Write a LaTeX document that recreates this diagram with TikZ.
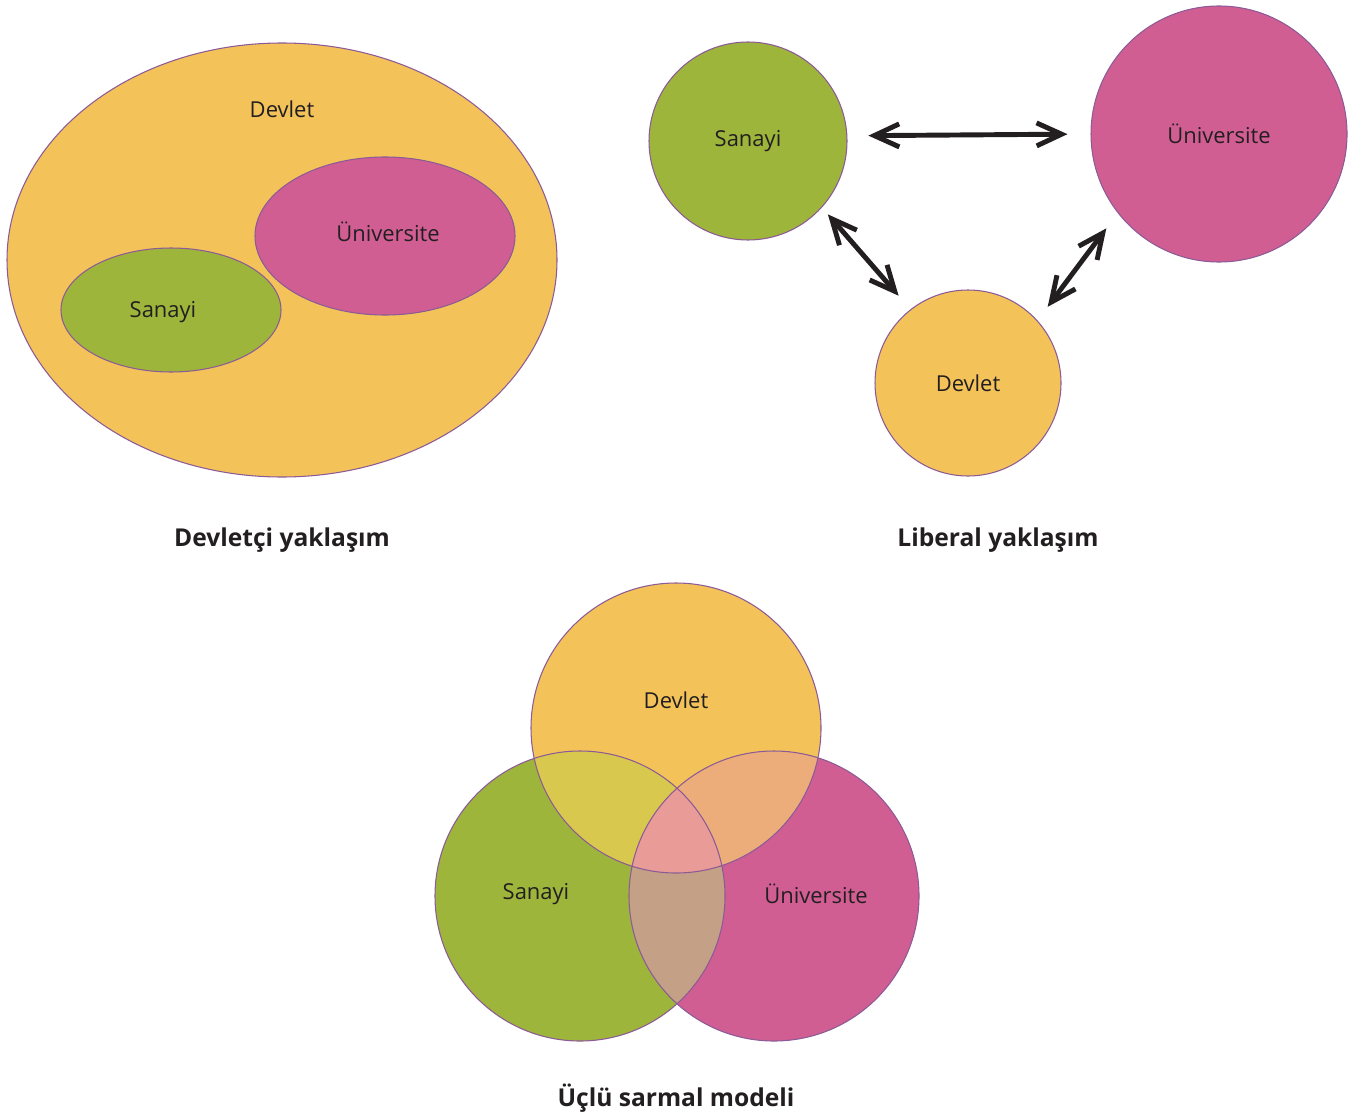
\documentclass[tikz,border=0pt]{standalone}
\usepackage{fontspec}
\setmainfont{Open Sans}
\usetikzlibrary{shapes.geometric,arrows.meta}

\definecolor{devletC}{RGB}{243,195,90}
\definecolor{sanayiC}{RGB}{158,181,59}
\definecolor{univC}{RGB}{209,94,147}
\definecolor{dsC}{RGB}{217,200,78}
\definecolor{duC}{RGB}{236,173,123}
\definecolor{suC}{RGB}{195,160,134}
\definecolor{dsuC}{RGB}{233,156,151}
\definecolor{rimC}{RGB}{140,90,150}
\definecolor{inkC}{RGB}{35,31,32}

\begin{document}
\begin{tikzpicture}[x=0.02cm, y=-0.02cm,
    rim/.style={draw=rimC, line width=0.6pt},
    lbl/.style={text=inkC, font=\fontsize{12.5}{15}\selectfont},
    caption/.style={text=inkC, font=\fontsize{14}{16}\selectfont\bfseries},
    link/.style={draw=inkC, line width=2.8pt,
      {Straight Barb[length=0.5cm, width=0.46cm]}-{Straight Barb[length=0.5cm, width=0.46cm]}}]

  \useasboundingbox (0,0) rectangle (1351,1115);

  % === Devletci yaklasim: everything inside the state ===
  \node[ellipse, rim, fill=devletC, minimum width=550*0.02cm,
    minimum height=434*0.02cm] (stBig) at (282,260) {};
  \node[ellipse, rim, fill=univC, minimum width=260*0.02cm,
    minimum height=158*0.02cm] (stUni) at (385,236) {};
  \node[ellipse, rim, fill=sanayiC, minimum width=220*0.02cm,
    minimum height=124*0.02cm] (stSan) at (171,310) {};
  \node[lbl] (stBigT) at (282,109) {Devlet};
  \node[lbl] (stUniT) at (388,232) {Üniversite};
  \node[lbl] (stSanT) at (163,312) {Sanayi};
  \node[caption] (stCap) at (282,540) {Devletçi yaklaşım};

  % === Liberal yaklasim: three separate spheres ===
  \node[circle, rim, fill=sanayiC, minimum size=198*0.02cm, lbl]
    (lbSan) at (748,141) {Sanayi};
  \node[circle, rim, fill=univC, minimum size=256*0.02cm, lbl]
    (lbUni) at (1219,134) {Üniversite};
  \node[circle, rim, fill=devletC, minimum size=186*0.02cm, lbl]
    (lbDev) at (968,383) {Devlet};
  \node[caption] (lbCap) at (998,540) {Liberal yaklaşım};

  % two-way links
  \draw[link, shorten <=0.42cm, shorten >=0.46cm] (lbSan.3) -- (lbUni.180);
  \draw[link, shorten <=0.18cm, shorten >=0.36cm] (lbSan.-42) -- (lbDev.128);
  \draw[link, shorten <=0.34cm, shorten >=0.38cm] (lbDev.42) -- (lbUni.218);

  % === Uclu sarmal modeli: overlapping spheres ===
  \def\r{145}
  \fill[devletC] (676,728) circle (\r);
  \fill[sanayiC] (580,896) circle (\r);
  \fill[univC] (774,896) circle (\r);
  % pairwise overlaps
  \begin{scope}
    \clip (676,728) circle (\r);
    \fill[dsC] (580,896) circle (\r);
    \fill[duC] (774,896) circle (\r);
  \end{scope}
  \begin{scope}
    \clip (580,896) circle (\r);
    \fill[suC] (774,896) circle (\r);
  \end{scope}
  % centre, all three
  \begin{scope}
    \clip (676,728) circle (\r);
    \clip (580,896) circle (\r);
    \fill[dsuC] (774,896) circle (\r);
  \end{scope}
  \draw[rim] (676,728) circle (\r);
  \draw[rim] (580,896) circle (\r);
  \draw[rim] (774,896) circle (\r);

  \node[lbl] (tsDev) at (676,700) {Devlet};
  \node[lbl] (tsSan) at (536,894) {Sanayi};
  \node[lbl] (tsUni) at (816,894) {Üniversite};
  \node[caption] (tsCap) at (676,1098) {Üçlü sarmal modeli};

\end{tikzpicture}
\end{document}
